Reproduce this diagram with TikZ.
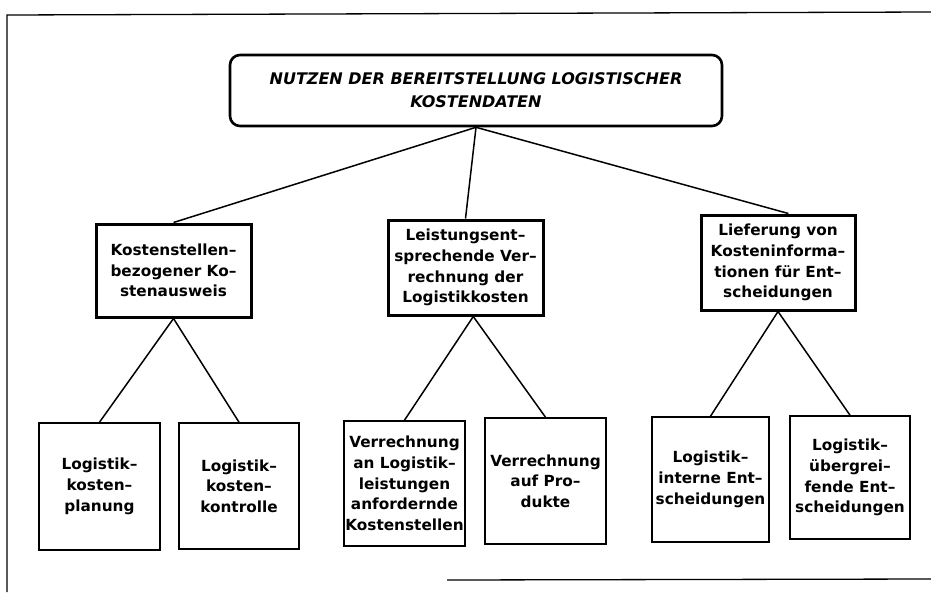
\documentclass[tikz,border=0pt]{standalone}
\usepackage{fontspec}
\setmainfont{DejaVu Sans}
\tikzset{
  topbox/.style={draw, line width=2.6pt, rounded corners=10pt, inner sep=0pt,
    minimum width=492pt, minimum height=71pt, align=center,
    font=\fontsize{16}{23}\selectfont\bfseries\itshape},
  midbox/.style={draw, line width=3pt, inner sep=0pt, minimum width=155pt,
    minimum height=94pt, align=center, font=\fontsize{15.3}{20.7}\selectfont\bfseries},
  leafbox/.style={draw, line width=1.6pt, inner sep=0pt, minimum width=120pt,
    minimum height=125pt, align=center, font=\fontsize{15.3}{20.7}\selectfont\bfseries},
  con/.style={line width=1.5pt}
}
\begin{document}
\begin{tikzpicture}[x=1pt, y=-1pt]
    \useasboundingbox (0,0) rectangle (931,592);

    % rahmen
    \draw[line width=1.3pt] (7,592) -- (7,15) -- (931,12);
    \draw[line width=1.3pt] (447,580) -- (931,579);

    \node[topbox] (nutzen) at (476,90.5)
      {NUTZEN DER BEREITSTELLUNG LOGISTISCHER\\KOSTENDATEN};

    \node[midbox, minimum height=93pt] (kst) at (173.5,270.5)
      {Kostenstellen--\\bezogener Ko--\\stenausweis};
    \node[midbox, minimum height=95pt] (verr) at (465.5,267.5)
      {Leistungsent--\\sprechende Ver--\\rechnung der\\Logistikkosten};
    \node[midbox, minimum width=154pt, minimum height=95pt] (lief) at (778,262.5)
      {Lieferung von\\Kosteninforma--\\tionen für Ent--\\scheidungen};

    \node[leafbox, minimum width=121pt, minimum height=127pt] (plan) at (99.5,486.5)
      {Logistik--\\kosten--\\planung};
    \node[leafbox, minimum height=126pt] (kontr) at (239,486)
      {Logistik--\\kosten--\\kontrolle};
    \node[leafbox, minimum width=121pt] (vlog) at (404.5,483.5)
      {Verrechnung\\an Logistik--\\leistungen\\anfordernde\\Kostenstellen};
    \node[leafbox, minimum width=121pt, minimum height=126pt] (vprod) at (545.5,481)
      {Verrechnung\\auf Pro--\\dukte};
    \node[leafbox, minimum width=117pt] (intern) at (710.5,479.5)
      {Logistik--\\interne Ent--\\scheidungen};
    \node[leafbox, minimum height=123pt] (uebergr) at (850,477.5)
      {Logistik--\\übergrei--\\fende Ent--\\scheidungen};

    % verbindungen
    \foreach \a/\b in {nutzen.south/kst.north, nutzen.south/verr.north,
                       nutzen.south/lief.78, kst.south/plan.north,
                       kst.south/kontr.north, verr.-81/vlog.north,
                       verr.-81/vprod.north, lief.south/intern.north,
                       lief.south/uebergr.north}
    \draw[con] (\a) -- (\b);

\end{tikzpicture}
\end{document}
